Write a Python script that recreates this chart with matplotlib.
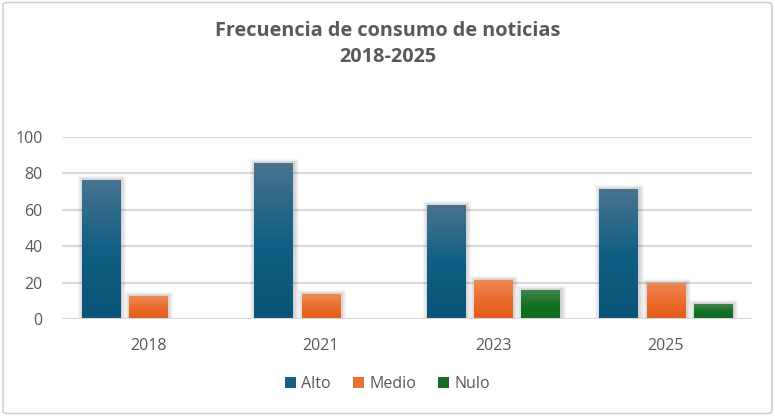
import numpy as np
import matplotlib.pyplot as plt
from matplotlib.patches import FancyBboxPatch, Rectangle
from matplotlib.colors import LinearSegmentedColormap

years = ['2018', '2021', '2023', '2025']
series = ['Alto', 'Medio', 'Nulo']
alto = [76.4, 85.7, 62.6, 71.4]
medio = [12.6, 13.7, 21.4, 19.8]
nulo = [0, 0, 15.9, 8.2]
values = [alto, medio, nulo]

# top colour, middle colour, bottom colour, legend colour
colors = [('#48738f', '#115f84', '#0a5378', '#156082'),
          ('#f08a58', '#ea6c2c', '#e45c1a', '#e97132'),
          ('#43834d', '#147224', '#0f6a1c', '#196b24')]

grey = '#595959'
plt.rcParams['font.family'] = ['Open Sans', 'DejaVu Sans']

fig = plt.figure(figsize=(7.75, 4.16), dpi=100)
fig.patches.append(FancyBboxPatch((0.004, 0.006), 0.992, 0.988,
                                  boxstyle='round,pad=0,rounding_size=0.006',
                                  transform=fig.transFigure, fc='white',
                                  ec='#d0d0d0', lw=1.2, zorder=-5))

ax = fig.add_axes([62 / 775, 1 - 319 / 416, 690 / 775, 182 / 416])
ax.patch.set_alpha(0)

x = np.arange(len(years))
width = 0.223
step = 0.275
px = 1 / 172.5  # one pixel in x data units

handles = []
for i, (vals, (ctop, cmid, cbot, cleg)) in enumerate(zip(values, colors)):
    pos = x + (i - 1) * step
    cmap = LinearSegmentedColormap.from_list('g%d' % i, [(0, cbot), (0.5, cmid), (1, ctop)])
    for xp, v in zip(pos, vals):
        if v <= 0:
            continue
        # soft shadow
        for k in range(1, 6):
            ax.add_patch(Rectangle((xp - width / 2 - k * px + px, 0),
                                   width + 2 * k * px, v + k * 0.45,
                                   fc='black', ec='none', alpha=0.035, zorder=2))
        bar = Rectangle((xp - width / 2, 0), width, v, fc='none', ec='none', zorder=3)
        ax.add_patch(bar)
        grad = np.linspace(0, 1, 100).reshape(-1, 1)
        im = ax.imshow(grad, cmap=cmap, origin='lower', aspect='auto',
                       extent=(xp - width / 2, xp + width / 2, 0, v), zorder=3)
        im.set_clip_path(bar)
    handles.append(Rectangle((0, 0), 1, 1, fc=cleg, ec='none', label=series[i]))

ax.set_xlim(-0.5, 3.5)
ax.set_ylim(0, 100)
ax.set_yticks(range(0, 101, 20))
ax.grid(axis='y', color='#d9d9d9', lw=1.5, zorder=0)
ax.set_axisbelow(True)
for s in ['top', 'right', 'left', 'bottom']:
    ax.spines[s].set_visible(False)
ax.axhline(0, color='#d9d9d9', lw=1.5, zorder=4)
ax.set_xticks(x)
ax.set_xticklabels(years)
ax.tick_params(axis='both', length=0, colors=grey, labelsize=11.5)
ax.tick_params(axis='x', pad=14)
ax.tick_params(axis='y', pad=14)

fig.text(0.5, 1 - 31 / 416, 'Frecuencia de consumo de noticias', ha='center',
         va='center', fontsize=14.3, fontweight='bold', color=grey)
fig.text(0.5, 1 - 57 / 416, '2018-2025', ha='center', va='center',
         fontsize=14.3, fontweight='bold', color=grey)

fig.legend(handles=handles, loc='center', bbox_to_anchor=(0.5, 1 - 384 / 416),
           ncol=3, frameon=False, fontsize=11.5, labelcolor=grey, handlelength=0.7,
           handleheight=0.7, handletextpad=0.3, columnspacing=1.4)

fig.savefig('out.png', dpi=100)
